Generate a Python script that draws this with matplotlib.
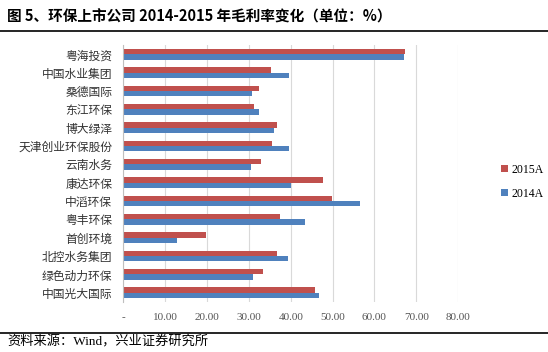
import matplotlib.pyplot as plt
import numpy as np

plt.rcParams['font.family'] = ['Liberation Serif', 'Noto Sans CJK SC', 'DejaVu Sans']

companies = ['粤海投资', '中国水业集团', '桑德国际', '东江环保', '博大绿泽', '天津创业环保股份',
             '云南水务', '康达环保', '中滔环保', '粤丰环保', '首创环境', '北控水务集团',
             '绿色动力环保', '中国光大国际']
margin_2015 = [67.2, 35.3, 32.5, 31.3, 36.8, 35.5, 32.9, 47.7, 49.9, 37.4, 19.7, 36.8, 33.3, 45.9]
margin_2014 = [67.1, 39.5, 30.7, 32.5, 35.9, 39.6, 30.5, 40.1, 56.6, 43.4, 12.8, 39.3, 30.9, 46.7]
xticks = [0, 10, 20, 30, 40, 50, 60, 70, 80]
xtick_labels = ['-', '10.00', '20.00', '30.00', '40.00', '50.00', '60.00', '70.00', '80.00']

red = '#C0504D'
blue = '#4F81BD'

fig = plt.figure(figsize=(5.48, 3.52), dpi=100)
ax = fig.add_axes([0.225, 0.1423, 0.611, 0.7296])

y = np.arange(len(companies))
h = 0.29
ax.barh(y - h / 2, margin_2015, height=h, color=red, label='2015A')
ax.barh(y + h / 2, margin_2014, height=h, color=blue, label='2014A')

ax.set_ylim(len(companies) - 0.5, -0.5)
ax.set_xlim(0, 80)
ax.set_yticks(y)
ax.set_yticklabels(companies, family=['Noto Sans CJK SC'], fontsize=8.5, color='#333333')
ax.set_xticks(xticks)
ax.set_xticklabels(xtick_labels, fontsize=8, color='#555555')
ax.tick_params(axis='y', length=0, pad=8)
ax.tick_params(axis='x', length=0, pad=8)
ax.grid(axis='x', color='#D9D9D9', linewidth=0.8)
ax.set_axisbelow(True)
for s in ['top', 'right', 'bottom']:
    ax.spines[s].set_visible(False)
ax.spines['left'].set_color('#BFBFBF')

handles, labels = ax.get_legend_handles_labels()
fig.legend(handles, labels, loc='center left', bbox_to_anchor=(0.905, 0.484),
           frameon=False, fontsize=8.5, handlelength=0.6, handleheight=0.6,
           handletextpad=0.3, labelspacing=1.0, borderaxespad=0)

fig.text(0.013, 0.952, '图 5、环保上市公司 2014-2015 年毛利率变化（单位：%）',
         family=['Noto Sans CJK SC'], fontsize=10.5, fontweight='bold', va='center')
fig.add_artist(plt.Line2D([0, 1], [0.912, 0.912], color='black', linewidth=1.2))
fig.add_artist(plt.Line2D([0, 1], [0.053, 0.053], color='black', linewidth=1.2))
fig.text(0.013, 0.028, '资料来源：Wind，兴业证券研究所', family=['Liberation Serif', 'Noto Sans CJK SC'],
         fontsize=9.5, va='center')

fig.savefig('out.png', dpi=100)
